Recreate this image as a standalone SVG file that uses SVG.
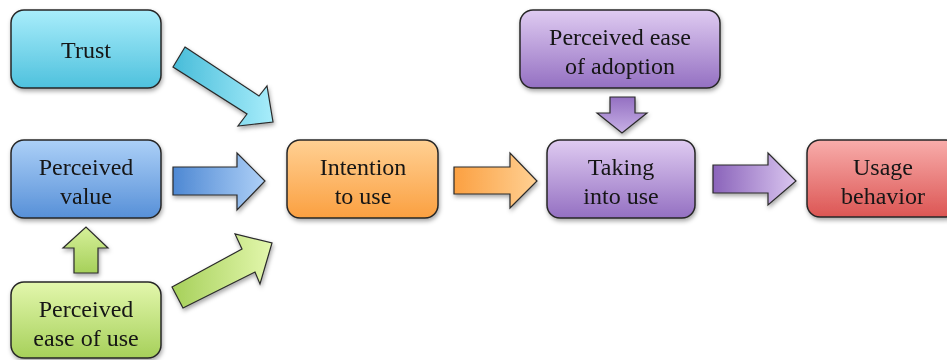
<svg xmlns="http://www.w3.org/2000/svg" width="947" height="360" viewBox="0 0 947 360">
<defs>
<style>
.box{stroke:#262626;stroke-width:1.5}
.arr{stroke:#2a2a2a;stroke-width:1.2;stroke-linejoin:miter}
text{font-family:"Liberation Serif","Times New Roman",serif;font-size:24px;fill:#151515;text-anchor:middle}
</style>
<filter id="sh" x="-10%" y="-10%" width="125%" height="130%">
<feDropShadow dx="1" dy="2.5" stdDeviation="2" flood-color="#000" flood-opacity="0.35"/>
</filter>
<linearGradient id="gCyan" x1="0" y1="0" x2="0" y2="1"><stop offset="0" stop-color="#a9edfb"/><stop offset="1" stop-color="#4ec1dd"/></linearGradient>
<linearGradient id="gBlue" x1="0" y1="0" x2="0" y2="1"><stop offset="0" stop-color="#acd0f7"/><stop offset="1" stop-color="#5790d8"/></linearGradient>
<linearGradient id="gGreen" x1="0" y1="0" x2="0" y2="1"><stop offset="0" stop-color="#e3f7ad"/><stop offset="1" stop-color="#a6d05a"/></linearGradient>
<linearGradient id="gOrange" x1="0" y1="0" x2="0" y2="1"><stop offset="0" stop-color="#ffd093"/><stop offset="1" stop-color="#fba041"/></linearGradient>
<linearGradient id="gPurple" x1="0" y1="0" x2="0" y2="1"><stop offset="0" stop-color="#dfcbf1"/><stop offset="1" stop-color="#9470c2"/></linearGradient>
<linearGradient id="gRed" x1="0" y1="0" x2="0" y2="1"><stop offset="0" stop-color="#f8adab"/><stop offset="1" stop-color="#dc5654"/></linearGradient>
<linearGradient id="aCyan" x1="0" y1="0" x2="1" y2="0"><stop offset="0" stop-color="#47bcd9"/><stop offset="1" stop-color="#a8edfb"/></linearGradient>
<linearGradient id="aBlue" x1="0" y1="0" x2="1" y2="0"><stop offset="0" stop-color="#4e88d3"/><stop offset="1" stop-color="#aed0f7"/></linearGradient>
<linearGradient id="aGreen" x1="0" y1="0" x2="1" y2="0"><stop offset="0" stop-color="#a6d05a"/><stop offset="1" stop-color="#e3f7ad"/></linearGradient>
<linearGradient id="aGreenV" x1="0" y1="1" x2="0" y2="0"><stop offset="0" stop-color="#a6d05a"/><stop offset="1" stop-color="#d6f09a"/></linearGradient>
<linearGradient id="aOrange" x1="0" y1="0" x2="1" y2="0"><stop offset="0" stop-color="#fba041"/><stop offset="1" stop-color="#ffd093"/></linearGradient>
<linearGradient id="aPurple" x1="0" y1="0" x2="1" y2="0"><stop offset="0" stop-color="#8a63ba"/><stop offset="1" stop-color="#dac6f0"/></linearGradient>
<linearGradient id="aPurpleV" x1="0" y1="0" x2="0" y2="1"><stop offset="0" stop-color="#9470c2"/><stop offset="1" stop-color="#c7b0e6"/></linearGradient>
</defs>

<g id="connectors" filter="url(#sh)">
<polygon class="arr" fill="url(#aCyan)" points="185,47 259,96 267,86 273,122 238,126 247,114 173,67"/>
<polygon class="arr" fill="url(#aBlue)" points="173,167 237,167 237,153 265,181 237,210 237,195 173,195"/>
<polygon class="arr" fill="url(#aGreen)" points="172,287 242,249 235,234 272,243 260,284 255,272 183,308"/>
<polygon class="arr" fill="url(#aGreenV)" points="74,273 74,248 63,248 86,227 108,248 98,248 98,273"/>
<polygon class="arr" fill="url(#aOrange)" points="454,167 510,167 510,153 537,181 510,208 510,194 454,194"/>
<polygon class="arr" fill="url(#aPurpleV)" points="610,97 635,97 635,113 647,113 622,133 597,113 610,113"/>
<polygon class="arr" fill="url(#aPurple)" points="713,165 768,165 768,153 796,181 768,205 768,193 713,193"/>
</g>

<g id="trust" filter="url(#sh)">
<rect class="box" x="11" y="10" width="150" height="78" rx="13" fill="url(#gCyan)"/>
<text x="86" y="58">Trust</text>
</g>
<g id="perceived-value" filter="url(#sh)">
<rect class="box" x="11" y="140" width="150" height="78" rx="13" fill="url(#gBlue)"/>
<text x="86" y="175">Perceived</text>
<text x="86" y="204">value</text>
</g>
<g id="perceived-ease-of-use" filter="url(#sh)">
<rect class="box" x="11" y="282" width="150" height="76" rx="13" fill="url(#gGreen)"/>
<text x="86" y="317">Perceived</text>
<text x="86" y="346">ease of use</text>
</g>
<g id="intention-to-use" filter="url(#sh)">
<rect class="box" x="287" y="140" width="151" height="78" rx="13" fill="url(#gOrange)"/>
<text x="363" y="175">Intention</text>
<text x="363" y="204">to use</text>
</g>
<g id="perceived-ease-of-adoption" filter="url(#sh)">
<rect class="box" x="520" y="10" width="200" height="78" rx="13" fill="url(#gPurple)"/>
<text x="620" y="45">Perceived ease</text>
<text x="620" y="74">of adoption</text>
</g>
<g id="taking-into-use" filter="url(#sh)">
<rect class="box" x="547" y="140" width="148" height="78" rx="13" fill="url(#gPurple)"/>
<text x="621" y="175">Taking</text>
<text x="621" y="204">into use</text>
</g>
<g id="usage-behavior" filter="url(#sh)">
<rect class="box" x="807" y="140" width="152" height="77" rx="13" fill="url(#gRed)"/>
<text x="883" y="175">Usage</text>
<text x="883" y="204">behavior</text>
</g>
</svg>
